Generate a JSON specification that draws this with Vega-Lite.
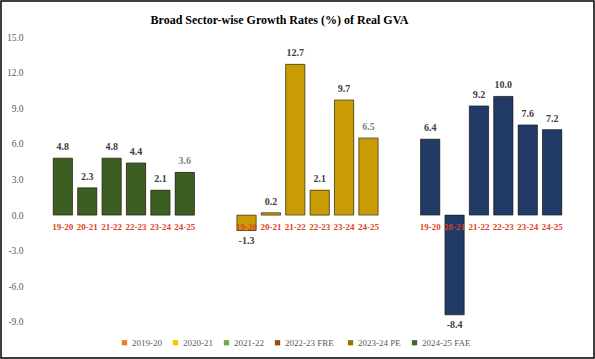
{
  "$schema": "https://vega.github.io/schema/vega-lite/v6.json",
  "width": 593,
  "height": 357,
  "autosize": "none",
  "padding": 1,
  "background": "#ffffff",
  "title": {
    "text": "Broad Sector-wise Growth Rates (%) of Real GVA",
    "font": "Liberation Serif",
    "fontSize": 12,
    "fontWeight": "bold",
    "color": "#000000",
    "anchor": "middle",
    "frame": "group",
    "dx": -18,
    "offset": -35,
    "baseline": "alphabetic"
  },
  "data": {
    "values": [
      {"sector": "Primary Sector", "year": "19-20", "series": "2019-20", "value": 4.8},
      {"sector": "Primary Sector", "year": "20-21", "series": "2020-21", "value": 2.3},
      {"sector": "Primary Sector", "year": "21-22", "series": "2021-22", "value": 4.8},
      {"sector": "Primary Sector", "year": "22-23", "series": "2022-23  FRE", "value": 4.4},
      {"sector": "Primary Sector", "year": "23-24", "series": "2023-24 PE", "value": 2.1},
      {"sector": "Primary Sector", "year": "24-25", "series": "2024-25 FAE", "value": 3.6},
      {"sector": "Secondary Sector", "year": "19-20", "series": "2019-20", "value": -1.3},
      {"sector": "Secondary Sector", "year": "20-21", "series": "2020-21", "value": 0.2},
      {"sector": "Secondary Sector", "year": "21-22", "series": "2021-22", "value": 12.7},
      {"sector": "Secondary Sector", "year": "22-23", "series": "2022-23  FRE", "value": 2.1},
      {"sector": "Secondary Sector", "year": "23-24", "series": "2023-24 PE", "value": 9.7},
      {"sector": "Secondary Sector", "year": "24-25", "series": "2024-25 FAE", "value": 6.5},
      {"sector": "TertiarySector", "year": "19-20", "series": "2019-20", "value": 6.4},
      {"sector": "TertiarySector", "year": "20-21", "series": "2020-21", "value": -8.4},
      {"sector": "TertiarySector", "year": "21-22", "series": "2021-22", "value": 9.2},
      {"sector": "TertiarySector", "year": "22-23", "series": "2022-23  FRE", "value": 10.0},
      {"sector": "TertiarySector", "year": "23-24", "series": "2023-24 PE", "value": 7.6},
      {"sector": "TertiarySector", "year": "24-25", "series": "2024-25 FAE", "value": 7.2}
    ]
  },
  "encoding": {
    "x": {
      "field": "sector",
      "type": "nominal",
      "sort": ["Primary Sector", "Secondary Sector", "TertiarySector"],
      "scale": {"paddingInner": 0, "paddingOuter": 0.1143, "align": 0.738},
      "axis": null
    },
    "y": {
      "field": "value",
      "type": "quantitative",
      "scale": {"domain": [-12.032, 18.032], "nice": false, "zero": false},
      "axis": {
        "values": [-9, -6, -3, 0, 3, 6, 9, 12, 15],
        "format": ".1f",
        "labelExpr": "replace(datum.label, '\u2212', '-')",
        "grid": false,
        "domain": false,
        "ticks": false,
        "title": null,
        "offset": -31,
        "labelPadding": 9,
        "labelFont": "Liberation Serif",
        "labelFontSize": 9.5,
        "labelColor": "#595959"
      }
    }
  },
  "layer": [
    {
      "transform": [{"aggregate": [{"op": "count", "as": "n"}], "groupby": ["sector"]}],
      "mark": {"type": "bar", "fill": null, "stroke": "#d9d9d9", "strokeWidth": 1},
      "encoding": {"y": {"datum": 0}, "y2": {"datum": 0}}
    },
    {
      "mark": {"type": "bar"},
      "encoding": {
        "xOffset": {"field": "year", "type": "nominal", "scale": {"paddingInner": 0.21, "paddingOuter": 0.87}},
        "color": {
          "field": "series",
          "type": "nominal",
          "scale": {
            "domain": ["2019-20", "2020-21", "2021-22", "2022-23  FRE", "2023-24 PE", "2024-25 FAE"],
            "range": ["#ED7D31", "#FFC000", "#70AD47", "#9E480E", "#997300", "#43682B"]
          },
          "legend": {
            "orient": "none",
            "legendX": 119,
            "legendY": 337,
            "direction": "horizontal",
            "title": null,
            "symbolType": "square",
            "symbolSize": 28,
            "symbolStrokeWidth": 0,
            "labelFont": "Liberation Serif",
            "labelFontSize": 9,
            "labelColor": "#595959",
            "labelOffset": 3,
            "columnPadding": 9
          }
        }
      }
    },
    {
      "mark": {"type": "bar", "stroke": "#111111", "strokeWidth": 0.8, "strokeOpacity": 0.7},
      "encoding": {
        "xOffset": {"field": "year", "type": "nominal"},
        "fill": {
          "field": "sector",
          "type": "nominal",
          "scale": {
            "domain": ["Primary Sector", "Secondary Sector", "TertiarySector"],
            "range": ["#3B5F23", "#C99C06", "#213A66"]
          },
          "legend": null
        }
      }
    },
    {
      "mark": {"type": "text", "font": "Liberation Serif", "fontSize": 9, "fontWeight": "bold", "color": "#D9461E", "baseline": "middle", "dy": 12},
      "encoding": {
        "xOffset": {"field": "year", "type": "nominal"},
        "y": {"datum": 0},
        "text": {"field": "year"}
      }
    },
    {
      "transform": [{"aggregate": [{"op": "count", "as": "n"}], "groupby": ["sector"]}],
      "mark": {"type": "text", "font": "Liberation Serif", "fontSize": 10, "fontWeight": "bold", "color": "#D9461E", "baseline": "middle", "dy": 24},
      "encoding": {
        "y": {"datum": 0},
        "text": {"field": "sector"}
      }
    },
    {
      "transform": [{"filter": "datum.value >= 0"}],
      "mark": {"type": "text", "font": "Liberation Serif", "fontSize": 10, "fontWeight": "bold", "baseline": "middle", "dy": -11},
      "encoding": {
        "xOffset": {"field": "year", "type": "nominal"},
        "text": {"field": "value", "format": ".1f"},
        "color": {
          "condition": {"test": "datum.year == '24-25' && datum.sector != 'TertiarySector'", "value": "#7F7F7F"},
          "value": "#404040"
        }
      }
    },
    {
      "transform": [{"filter": "datum.value < 0"}],
      "mark": {"type": "text", "font": "Liberation Serif", "fontSize": 10, "fontWeight": "bold", "color": "#404040", "baseline": "middle", "dy": 10},
      "encoding": {
        "xOffset": {"field": "year", "type": "nominal"},
        "text": {"field": "value"}
      }
    }
  ],
  "config": {
    "view": {"stroke": "#000000", "strokeWidth": 1.5}
  }
}
